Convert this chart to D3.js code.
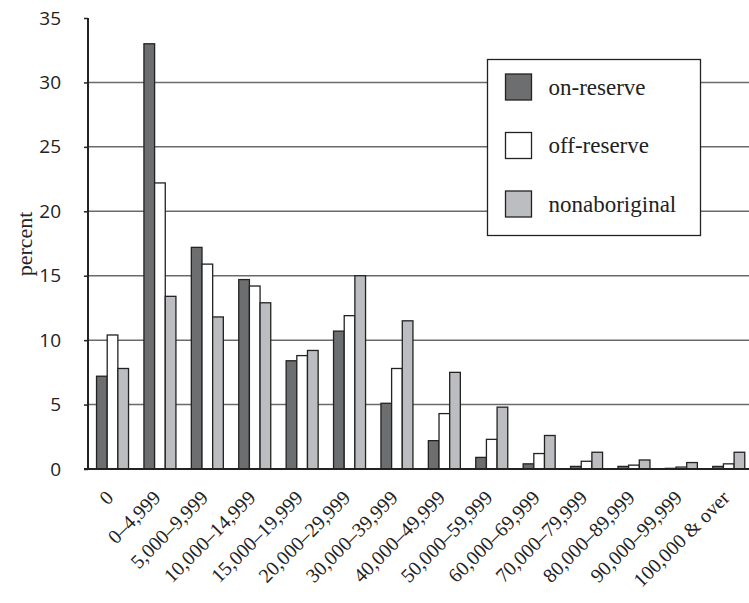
<!DOCTYPE html>
<html>
<head>
<meta charset="utf-8">
<script src="https://cdn.jsdelivr.net/npm/d3@7"></script>
<style>
  html, body { margin: 0; padding: 0; background: #fff; }
  svg { display: block; }
</style>
</head>
<body>
<svg id="chart" width="749" height="603"></svg>
<script>
const categories = ["0", "0–4,999", "5,000–9,999", "10,000–14,999", "15,000–19,999",
  "20,000–29,999", "30,000–39,999", "40,000–49,999", "50,000–59,999", "60,000–69,999",
  "70,000–79,999", "80,000–89,999", "90,000–99,999", "100,000 & over"];
const seriesNames = ["on-reserve", "off-reserve", "nonaboriginal"];
const onReserve   = [7.2, 33.0, 17.2, 14.7, 8.4, 10.7, 5.1, 2.2, 0.9, 0.4, 0.2, 0.2, 0.05, 0.2];
const offReserve  = [10.4, 22.2, 15.9, 14.2, 8.8, 11.9, 7.8, 4.3, 2.3, 1.2, 0.6, 0.3, 0.15, 0.4];
const nonAborig   = [7.8, 13.4, 11.8, 12.9, 9.2, 15.0, 11.5, 7.5, 4.8, 2.6, 1.3, 0.7, 0.5, 1.3];
const yTicks = [0, 5, 10, 15, 20, 25, 30, 35];
const colors = ["#6d6e70", "#ffffff", "#bcbdc0"];

const series = [onReserve, offReserve, nonAborig];
const svg = d3.select("#chart");
const serif = "'Liberation Serif', 'Times New Roman', serif";

const x0 = 88, yBase = 469, yTop = 18;
const y = d3.scaleLinear().domain([0, 35]).range([yBase, yTop]);
const x = d3.scaleBand().domain(categories).range([x0, 753.3]).paddingInner(0.325).paddingOuter(0.18);
const xs = d3.scaleBand().domain(d3.range(3)).range([0, x.bandwidth()]);

// gridlines
svg.append("g").selectAll("line").data(yTicks.filter(d => d > 0 && d < 35)).join("line")
  .attr("x1", x0).attr("x2", 749)
  .attr("y1", d => y(d)).attr("y2", d => y(d))
  .attr("stroke", "#6a6a6a").attr("stroke-width", 1.5);

// bars
const groups = svg.append("g").selectAll("g").data(categories).join("g")
  .attr("transform", d => `translate(${x(d)},0)`);
groups.selectAll("rect").data((d, i) => series.map((s, k) => ({k, v: s[i]}))).join("rect")
  .attr("x", d => xs(d.k))
  .attr("width", xs.bandwidth())
  .attr("y", d => y(d.v))
  .attr("height", d => y(0) - y(d.v))
  .attr("fill", d => colors[d.k])
  .attr("stroke", "#222")
  .attr("stroke-width", 1.3);

// y axis
const yAxis = d3.axisLeft(y).tickValues(yTicks).tickSize(4).tickPadding(23);
const gy = svg.append("g").attr("transform", `translate(${x0},0)`).call(yAxis);
gy.select(".domain").attr("stroke", "#222").attr("stroke-width", 2).attr("d", `M0,${yTop}V${yBase}`);
gy.selectAll(".tick line").attr("stroke", "#222").attr("stroke-width", 1.5);
gy.selectAll(".tick text").attr("font-family", "'Open Sans', sans-serif").attr("font-size", 19).attr("fill", "#222");

// x axis line
svg.append("line").attr("x1", x0 - 4).attr("x2", 749).attr("y1", yBase).attr("y2", yBase)
  .attr("stroke", "#222").attr("stroke-width", 2);

// x labels
svg.append("g").selectAll("text").data(categories).join("text")
  .attr("transform", d => `translate(${x(d) + x.bandwidth() / 2 + 2},499) rotate(-45)`)
  .attr("text-anchor", "end")
  .style("font-variant-numeric", "oldstyle-nums")
  .attr("font-family", serif).attr("font-size", 20).attr("fill", "#222")
  .text(d => d);

// y label
svg.append("text").attr("transform", "translate(24,244) rotate(-90)")
  .attr("text-anchor", "middle").attr("dy", "0.35em")
  .attr("font-family", serif).attr("font-size", 22).attr("fill", "#222")
  .text("percent");

// legend
const lg = svg.append("g");
lg.append("rect").attr("x", 487.5).attr("y", 59.5).attr("width", 213).attr("height", 176)
  .attr("fill", "#fff").attr("stroke", "#222").attr("stroke-width", 1.3);
const items = lg.selectAll("g").data(seriesNames).join("g")
  .attr("transform", (d, i) => `translate(505.5,${74 + i * 58.5})`);
items.append("rect").attr("width", 26).attr("height", 26)
  .attr("fill", (d, i) => colors[i]).attr("stroke", "#222").attr("stroke-width", 1.3);
items.append("text").attr("x", 43).attr("y", 13).attr("dy", "0.33em")
  .attr("font-family", serif).attr("font-size", 23).attr("fill", "#222")
  .text(d => d);
</script>
</body>
</html>
